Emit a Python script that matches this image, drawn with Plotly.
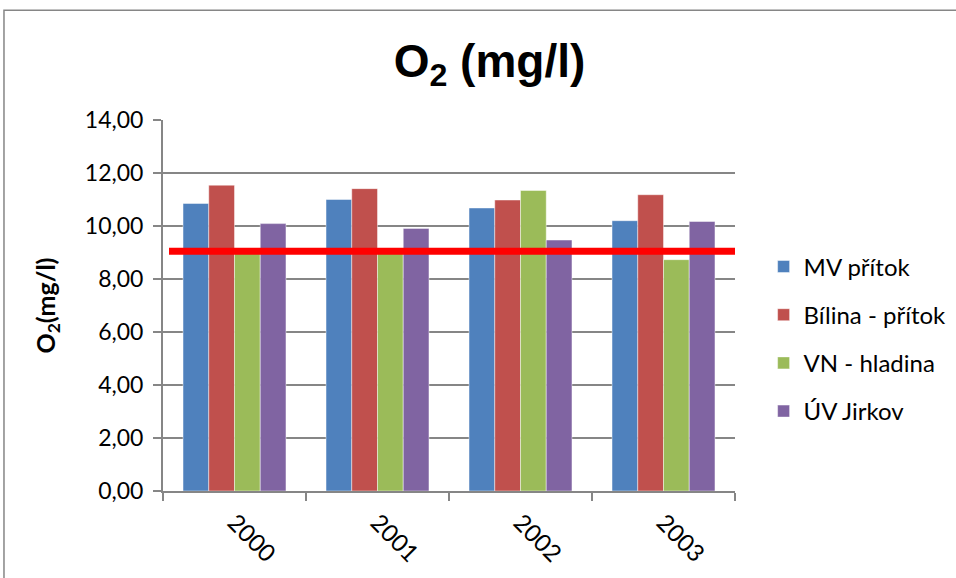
import plotly.graph_objects as go

years = ["2000", "2001", "2002", "2003"]
series_names = ["MV přítok", "Bílina - přítok", "VN - hladina", "ÚV Jirkov"]
mv_pritok = [10.85, 11.00, 10.68, 10.20]
bilina_pritok = [11.54, 11.41, 10.98, 11.18]
vn_hladina = [9.00, 9.00, 11.34, 8.73]
uv_jirkov = [10.09, 9.91, 9.47, 10.17]
limit_value = 9.05
y_ticks = [0, 2, 4, 6, 8, 10, 12, 14]

colors = ["#4F81BD", "#C0504D", "#9BBB59", "#8064A2"]
values = [mv_pritok, bilina_pritok, vn_hladina, uv_jirkov]

fig = go.Figure()
for i, (name, vals) in enumerate(zip(series_names, values)):
    fig.add_trace(go.Bar(
        x=years, y=vals, name=name, legendgroup=str(i),
        marker=dict(color=colors[i], line=dict(color="rgba(255,255,255,0.45)", width=1)),
    ))

gray = "#868686"
fig.update_layout(
    width=956, height=578,
    margin=dict(l=163, r=221, t=120, b=87, autoexpand=False),
    paper_bgcolor="white", plot_bgcolor="white",
    separators=", ",
    barmode="group", bargap=0.28, bargroupgap=0,
    title=dict(text="<b>O<sub>2</sub> (mg/l)</b>", x=0.512, xanchor="center",
               y=0.895, yanchor="middle",
               font=dict(family="Liberation Sans, Arial", size=46, color="black")),
    font=dict(family="Lato, sans-serif", size=23, color="black"),
    showlegend=True,
    legend=dict(x=1.05, y=0.41, xanchor="left", yanchor="middle",
                font=dict(family="Lato, sans-serif", size=24, color="black"),
                tracegroupgap=14, bgcolor="rgba(0,0,0,0)"),
    xaxis=dict(type="category", showline=True, linecolor=gray, linewidth=2,
               ticks="outside", tickson="boundaries", ticklen=8, tickcolor=gray, tickwidth=2,
               tickangle=45, tickfont=dict(family="Lato, sans-serif", size=24),
               ticklabelstandoff=6, showgrid=False, automargin=False),
    yaxis=dict(range=[0, 14], tickvals=y_ticks, tickformat=".2f",
               showline=True, linecolor=gray, linewidth=2,
               ticks="outside", ticklen=8, tickcolor=gray, tickwidth=2,
               showgrid=True, gridcolor=gray, gridwidth=2, zeroline=False,
               tickfont=dict(family="Lato, sans-serif", size=23),
               ticklabelstandoff=5, automargin=False,
               title=dict(text="<b>O<sub>2</sub>(mg/l)</b>", standoff=22,
                          font=dict(family="Lato, sans-serif", size=25))),
    shapes=[
        dict(type="line", xref="paper", yref="y", x0=0.0105, x1=1.0,
             y0=limit_value, y1=limit_value, line=dict(color="#FF0000", width=7)),
        dict(type="rect", xref="paper", yref="paper", x0=-0.278, x1=1.6,
             y0=-0.4, y1=1.296, line=dict(color=gray, width=1.5), layer="below"),
    ],
)

fig.write_html("out.html")
